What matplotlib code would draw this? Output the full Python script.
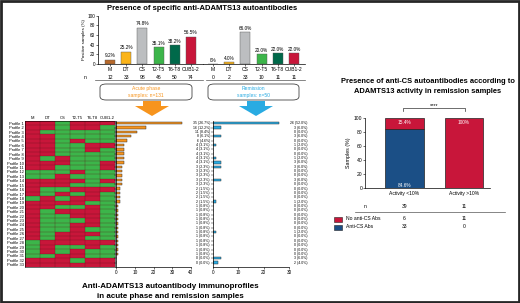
import numpy as np
import matplotlib.pyplot as plt
from matplotlib.patches import FancyBboxPatch, Rectangle, Polygon
from matplotlib.colors import ListedColormap
import matplotlib.transforms as mtransforms

plt.rcParams['font.family'] = ['Liberation Sans', 'DejaVu Sans']

W, H = 520, 303
fig = plt.figure(figsize=(W / 100, H / 100), dpi=100)

# the data
domains = ['M', 'DT', 'CS', 'T2-T5', 'T6-T8', 'CUB1-2']
dom_colors = ['#b8692a', '#fbb41a', '#bcbec0', '#3cb54a', '#00694a', '#c8163a']
acute_pct = [9.2, 25.2, 74.8, 35.1, 38.2, 56.5]
acute_n = [12, 33, 98, 46, 50, 74]
remis_pct = [0, 4.0, 66.0, 20.0, 22.0, 22.0]
remis_n = [0, 2, 33, 10, 11, 11]

profiles = ['Profile %d' % i for i in range(1, 34)]
# 1 = positive (green), 0 = negative (red); columns M, DT, CS, T2-T5, T6-T8, CUB1-2
profile_matrix = [
    [0, 0, 1, 0, 0, 0],
    [0, 0, 1, 0, 0, 1],
    [0, 1, 1, 1, 1, 1],
    [0, 0, 1, 1, 1, 1],
    [0, 0, 1, 0, 1, 1],
    [0, 0, 1, 1, 0, 0],
    [0, 0, 1, 1, 0, 1],
    [0, 0, 1, 1, 1, 1],
    [0, 1, 0, 1, 1, 1],
    [0, 0, 0, 1, 1, 0],
    [0, 0, 1, 1, 1, 0],
    [1, 1, 1, 0, 1, 1],
    [1, 1, 0, 1, 1, 1],
    [0, 0, 0, 0, 1, 0],
    [0, 0, 0, 1, 1, 1],
    [0, 1, 1, 0, 0, 0],
    [0, 1, 0, 1, 0, 1],
    [1, 0, 1, 0, 0, 1],
    [0, 0, 0, 0, 1, 1],
    [0, 0, 1, 1, 0, 1],
    [0, 1, 0, 0, 0, 1],
    [0, 1, 1, 0, 0, 1],
    [0, 1, 1, 1, 0, 1],
    [0, 1, 1, 0, 0, 1],
    [0, 1, 1, 0, 1, 1],
    [0, 1, 0, 0, 0, 1],
    [0, 1, 0, 0, 1, 1],
    [1, 0, 0, 0, 0, 0],
    [1, 0, 1, 1, 0, 1],
    [1, 0, 1, 0, 1, 1],
    [1, 1, 0, 0, 1, 1],
    [0, 0, 0, 1, 0, 0],
    [0, 0, 0, 0, 0, 0],
]
acute_counts = [35, 16, 11, 8, 6, 4, 4, 4, 4, 4, 3, 3, 3, 3, 3, 2, 2, 2, 2,
                1, 1, 1, 1, 1, 1, 1, 1, 1, 1, 1, 1, 0, 0]
acute_labels = ['26.7', '12.2', '8.4', '6.1', '4.6'] + ['3.1'] * 5 + ['2.3'] * 5 + \
               ['1.5'] * 4 + ['0.8'] * 12 + ['0.0'] * 2
remis_counts = [26, 3, 0, 3, 0, 1, 0, 0, 1, 3, 3, 0, 0, 3, 0, 0, 0, 0, 1,
                0, 0, 0, 0, 0, 0, 1, 0, 0, 0, 0, 0, 3, 2]
remis_labels = ['52.0', '6.0', '0.0', '6.0', '0.0', '2.0', '0.0', '0.0', '2.0', '6.0',
                '6.0', '0.0', '0.0', '6.0', '0.0', '0.0', '0.0', '0.0', '2.0', '0.0',
                '0.0', '0.0', '0.0', '0.0', '0.0', '2.0', '0.0', '0.0', '0.0', '0.0',
                '0.0', '6.0', '4.0']

groups = ['Activity <10%', 'Activity >10%']
group_n = [39, 11]
anti_cs = [84.6, 0]
no_anti_cs = [15.4, 100]
anti_cs_n = [33, 0]
no_anti_cs_n = [6, 11]

RED = '#c8163a'
GREEN = '#3cb54a'
BLUE = '#1b4f86'
ORANGE = '#f7941d'
LBLUE = '#29abe2'


def ax_px(x0, y0, x1, y1):
    return fig.add_axes([x0 / W, 1 - y1 / H, (x1 - x0) / W, (y1 - y0) / H])


def fig_text(x, y, s, **kw):
    fig.text(x / W, 1 - y / H, s, **kw)


def fig_line(xs, ys, **kw):
    fig.add_artist(plt.Line2D([x / W for x in xs], [1 - y / H for y in ys], **kw))


# border
fig.add_artist(Rectangle((0.002, 0.003), 0.996, 0.994, transform=fig.transFigure,
                         fill=False, edgecolor='#262626', linewidth=2))

fig_text(202, 8, 'Presence of specific anti-ADAMTS13 autoantibodies', ha='center',
         va='center', fontsize=5.5, fontweight='bold')

# top bar charts
for (x0, x1, xl, vals, ns, yaxis) in [
        (98, 203, -0.74, acute_pct, acute_n, True),
        (203, 305, -0.62, remis_pct, remis_n, False)]:
    ax = ax_px(x0, 15.5, x1, 64)
    idx = np.arange(6)
    ax.bar(idx, vals, 0.62, color=dom_colors, edgecolor='#555555', linewidth=0.3)
    for i, v in enumerate(vals):
        s = '0%' if v == 0 else '%.1f%%' % v
        ax.text(i, v + 3, s, ha='center', va='bottom', fontsize=3.4)
    ax.set_xlim(xl, xl + (x1 - x0) / 16.2)
    ax.set_ylim(0, 100)
    ax.set_xticks(idx)
    ax.set_xticklabels(domains, fontsize=3.6)
    ax.tick_params(axis='x', length=1.5, width=0.4, pad=1)
    for s in ['top', 'right']:
        ax.spines[s].set_visible(False)
    ax.spines['bottom'].set_linewidth(0.5)
    if yaxis:
        ax.set_yticks([0, 20, 40, 60, 80, 100])
        ax.tick_params(axis='y', labelsize=3.4, length=1.5, width=0.4, pad=0.5)
        ax.spines['left'].set_linewidth(0.5)
        ax.set_ylabel('Positive samples (%)', fontsize=3.2, labelpad=1)
    else:
        ax.spines['left'].set_visible(False)
        ax.set_yticks([])
    tr = mtransforms.blended_transform_factory(ax.transData, fig.transFigure)
    for i, n in enumerate(ns):
        ax.text(i, 1 - 77 / H, str(n), transform=tr, ha='center', va='center', fontsize=3.6)
    if yaxis:
        ax.text(-1.55, 1 - 77 / H, 'n', transform=tr, ha='center', va='center', fontsize=3.6)
    ax.patch.set_alpha(0)

fig_line([95, 203], [80.5, 80.5], color='#555555', linewidth=0.5)
fig_line([206, 305], [80.5, 80.5], color='#555555', linewidth=0.5)

# rounded boxes
for (x0, x1, c, s) in [(100, 192, ORANGE, 'Acute phase\nsamples: n=131'),
                       (208, 299, LBLUE, 'Remission\nsamples: n=50')]:
    fig.add_artist(FancyBboxPatch((x0 / W, 1 - 100 / H), (x1 - x0) / W, 16 / H,
                                  boxstyle='round,pad=0,rounding_size=0.012',
                                  transform=fig.transFigure, fill=False,
                                  edgecolor='#444444', linewidth=0.6))
    fig_text((x0 + x1) / 2, 92, s, ha='center', va='center', fontsize=3.6,
             color=c, linespacing=1.5)

# arrows
for (cx, c) in [(152, ORANGE), (256, LBLUE)]:
    pts = [(cx - 9, 101), (cx + 9, 101), (cx + 9, 106), (cx + 17, 106),
           (cx, 116), (cx - 17, 106), (cx - 9, 106)]
    fig.add_artist(Polygon([(x / W, 1 - y / H) for x, y in pts], closed=True,
                           transform=fig.transFigure, facecolor=c, edgecolor='none'))

# heatmap
axh = ax_px(25, 121, 115, 267)
mat = np.array(profile_matrix)
axh.imshow(mat, cmap=ListedColormap([RED, GREEN]), vmin=0, vmax=1, aspect='auto',
           interpolation='nearest', extent=(0, 6, 33, 0))
for k in range(1, 33):
    axh.axhline(k, color='#5a1018', linewidth=0.35, alpha=0.6)
for k in range(1, 6):
    axh.axvline(k, color='#5a1018', linewidth=0.35, alpha=0.6)
axh.set_xlim(0, 6)
axh.set_ylim(33, 0)
axh.set_xticks(np.arange(6) + 0.5)
axh.set_xticklabels(domains, fontsize=3.0)
axh.xaxis.tick_top()
axh.tick_params(axis='x', length=0, pad=1)
axh.set_yticks(np.arange(33) + 0.5)
axh.set_yticklabels(profiles, fontsize=2.9)
axh.tick_params(axis='y', length=0, pad=1)
for s in axh.spines.values():
    s.set_linewidth(0.4)

# profile bars
ypos = np.arange(33)
for (x0, x1, xmax, ticks, counts, lbls, col, tx) in [
        (116, 191, 40, [0, 10, 20, 30, 40], acute_counts, acute_labels, ORANGE, 210),
        (213, 289, 30, [0, 10, 20, 30], remis_counts, remis_labels, LBLUE, 307)]:
    ax = ax_px(x0, 121, x1, 267)
    ax.barh(ypos, counts, 0.55, color=col, edgecolor='#333333', linewidth=0.35)
    ax.set_ylim(32.5 + 0.5, -0.5)
    ax.set_xlim(0, xmax)
    ax.set_xticks(ticks)
    ax.set_yticks(ypos)
    ax.set_yticklabels([])
    ax.tick_params(axis='y', length=1.2, width=0.3)
    ax.tick_params(axis='x', labelsize=3.4, length=1.5, width=0.4, pad=1)
    for s in ['top', 'right']:
        ax.spines[s].set_visible(False)
    ax.spines['left'].set_linewidth(0.5)
    ax.spines['bottom'].set_linewidth(0.5)
    tr = mtransforms.blended_transform_factory(fig.transFigure, ax.transData)
    for i, (c, l) in enumerate(zip(counts, lbls)):
        ax.text(tx / W, i, '%d (%s%%)' % (c, l), transform=tr, ha='right', va='center',
                fontsize=2.5)
    ax.patch.set_alpha(0)

fig_text(170, 286, 'Anti-ADAMTS13 autoantibody immunoprofiles', ha='center', va='center',
         fontsize=5.8, fontweight='bold')
fig_text(170, 296, 'in acute phase and remission samples', ha='center', va='center',
         fontsize=5.8, fontweight='bold')

# right panel
fig_text(428, 82, 'Presence of anti-CS autoantibodies according to', ha='center',
         va='center', fontsize=5.4, fontweight='bold')
fig_text(428, 91.5, 'ADAMTS13 activity in remission samples', ha='center',
         va='center', fontsize=5.4, fontweight='bold')

axr = ax_px(365, 118, 490, 188)
gx = np.array([1, 2])
axr.bar(gx, anti_cs, 0.655, color=BLUE, edgecolor='#222222', linewidth=0.5)
axr.bar(gx, no_anti_cs, 0.655, bottom=anti_cs, color=RED, edgecolor='#222222', linewidth=0.5)
axr.set_xlim(0.336, 2.437)
axr.set_ylim(0, 100)
axr.set_yticks([0, 20, 40, 60, 80, 100])
axr.set_xticks(gx)
axr.set_xticklabels(groups, fontsize=3.6)
axr.tick_params(axis='y', labelsize=3.6, length=1.5, width=0.4, pad=0.5)
axr.tick_params(axis='x', length=0, pad=2)
axr.set_ylabel('Samples (%)', fontsize=3.8, labelpad=2)
for s in ['top', 'right']:
    axr.spines[s].set_visible(False)
axr.spines['left'].set_linewidth(0.5)
axr.spines['bottom'].set_linewidth(0.5)
axr.text(1, 94, '15.4%', ha='center', va='center', fontsize=3.4, color='white')
axr.text(1, 4, '84.6%', ha='center', va='center', fontsize=3.4, color='white')
axr.text(2, 94, '100%', ha='center', va='center', fontsize=3.4, color='white')

fig_line([403, 403, 465, 465], [111, 108, 108, 111], color='#333333', linewidth=0.5)
fig_text(434, 105.5, '****', ha='center', va='center', fontsize=4)

trr = mtransforms.blended_transform_factory(axr.transData, fig.transFigure)
axr.text(0.336, 1 - 207 / H, 'n', transform=trr, ha='center', va='center', fontsize=3.6)
for i in range(2):
    axr.text(gx[i], 1 - 207 / H, str(group_n[i]), transform=trr, ha='center', va='center', fontsize=3.6)
    axr.text(gx[i], 1 - 219 / H, str(no_anti_cs_n[i]), transform=trr, ha='center', va='center', fontsize=3.6)
    axr.text(gx[i], 1 - 227 / H, str(anti_cs_n[i]), transform=trr, ha='center', va='center', fontsize=3.6)
fig_line([355, 505], [211.5, 211.5], color='#555555', linewidth=0.5)
for (yy, c, s) in [(219, RED, 'No anti-CS Abs'), (227, BLUE, 'Anti-CS Abs')]:
    fig.add_artist(Rectangle((334 / W, 1 - (yy + 2.5) / H), 8 / W, 5 / H,
                             transform=fig.transFigure, facecolor=c,
                             edgecolor='#222222', linewidth=0.4))
    fig_text(346, yy, s, ha='left', va='center', fontsize=3.6)

fig.savefig('out.png', dpi=100)
